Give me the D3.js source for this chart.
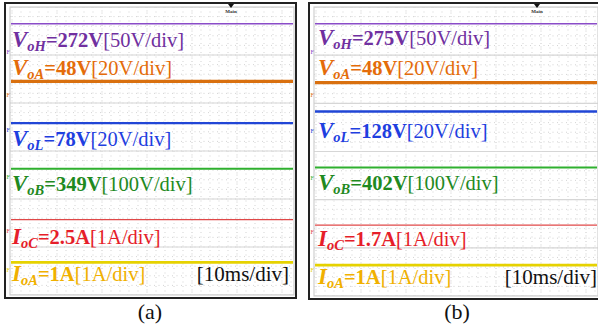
<!DOCTYPE html>
<html>
<head>
<meta charset="utf-8">
<script src="https://cdn.jsdelivr.net/npm/d3@7"></script>
<style>
  html, body { margin: 0; padding: 0; background: #fff; }
  svg { display: block; }
  text { font-family: "Liberation Serif", "Times New Roman", serif; }
</style>
</head>
<body>
<svg id="chart" width="598" height="330"></svg>
<script>
// Channel names: main letter + subscript
const symbolMain = ["V", "V", "V", "V", "I", "I"];
const symbolSub = ["oH", "oA", "oL", "oB", "oC", "oA"];
const units = ["V", "V", "V", "V", "A", "A"];
const divLabels = ["[50V/div]", "[20V/div]", "[20V/div]", "[100V/div]", "[1A/div]", "[1A/div]"];

// Measured steady-state values for each case
const valuesA = [272, 48, 78, 349, 2.5, 1];
const valuesB = [275, 48, 128, 402, 1.7, 1];

// Trace levels on the screen, in vertical divisions from the top
const levelsA = [0.35, 1.55, 2.42, 3.37, 4.43, 5.32];
const levelsB = [0.35, 1.57, 2.17, 3.33, 4.53, 5.36];

// Ground-reference marker levels (divisions from top)
const groundA = [0.93, 1.82, 2.55, 3.54, 4.66, 5.47];
const groundB = [0.93, 1.82, 2.56, 3.54, 4.66, 5.45];

const timeBase = "[10ms/div]";
const panelNames = ["(a)", "(b)"];

const traceColors = ["#8a4cc8", "#d9700f", "#2146d6", "#2fb02f", "#e04848", "#e6d200"];
const textColors = ["#7030a0", "#e46c0a", "#1f3fe0", "#1f8a1f", "#e61e2a", "#f0b000"];
const traceWidths = [1.5, 3.2, 2.4, 2, 1.2, 2.6];

const svg = d3.select("#chart");

// Layout per panel: outer frame and inner screen
const panels = [
  { frame: [5, 3, 296, 298], screen: [10, 7, 294, 295], values: valuesA, levels: levelsA, ground: groundA,
    labelRows: [0.83, 1.41, 2.90, 3.83, 4.93, 5.71], labelX: 12, trig: 231, name: panelNames[0] },
  { frame: [309, 3, 604, 299], screen: [314, 7, 598, 296], values: valuesB, levels: levelsB, ground: groundB,
    labelRows: [0.79, 1.41, 2.71, 3.79, 4.97, 5.75], labelX: 318, trig: 537, name: panelNames[1] }
];

const nDivY = 6;
const divW = 45;

panels.forEach((p, pi) => {
  const [fx0, fy0, fx1, fy1] = p.frame;
  const [sx0, sy0, sx1, sy1] = p.screen;
  const g = svg.append("g");

  const y = d3.scaleLinear().domain([0, nDivY]).range([sy0, sy1]);
  const x0 = sx0 + 2;
  const nDivX = Math.ceil((sx1 - x0) / divW);
  const x = d3.scaleLinear().domain([0, nDivX]).range([x0, x0 + nDivX * divW]);

  // frame
  g.append("rect")
    .attr("x", fx0).attr("y", fy0)
    .attr("width", fx1 - fx0).attr("height", fy1 - fy0)
    .attr("fill", "#fff").attr("stroke", "#222").attr("stroke-width", 2);

  const clipId = "clip" + pi;
  g.append("clipPath").attr("id", clipId)
    .append("rect").attr("x", sx0).attr("y", sy0)
    .attr("width", sx1 - sx0).attr("height", sy1 - sy0);
  const scr = g.append("g").attr("clip-path", `url(#${clipId})`);

  // minor dotted grid
  const minorY = d3.range(0, nDivY * 5 + 1).map(d => d / 5);
  const minorX = d3.range(0, nDivX * 5 + 1).map(d => d / 5);
  scr.selectAll(".mx").data(minorX).join("line")
    .attr("x1", d => x(d)).attr("x2", d => x(d))
    .attr("y1", sy0).attr("y2", sy1)
    .attr("stroke", "#c8c8c8").attr("stroke-width", 0.8)
    .attr("stroke-dasharray", "1,3.5");
  scr.selectAll(".my").data(minorY).join("line")
    .attr("y1", d => y(d)).attr("y2", d => y(d))
    .attr("x1", sx0).attr("x2", sx1)
    .attr("stroke", "#c8c8c8").attr("stroke-width", 0.8)
    .attr("stroke-dasharray", "1,3.5");

  // major grid
  scr.selectAll(".gy").data(d3.range(0, nDivY + 1)).join("line")
    .attr("y1", d => y(d)).attr("y2", d => y(d))
    .attr("x1", sx0).attr("x2", sx1)
    .attr("stroke", "#d6d6d6").attr("stroke-width", 1.2);
  scr.selectAll(".gx").data(d3.range(0, nDivX + 1)).join("line")
    .attr("x1", d => x(d)).attr("x2", d => x(d))
    .attr("y1", sy0).attr("y2", sy1)
    .attr("stroke", "#dcdcdc").attr("stroke-width", 0.8)
    .attr("stroke-dasharray", "1,2");

  // screen border
  g.append("rect")
    .attr("x", sx0).attr("y", sy0)
    .attr("width", sx1 - sx0).attr("height", sy1 - sy0)
    .attr("fill", "none").attr("stroke", "#d0d0d0").attr("stroke-width", 1.2);

  // traces
  scr.selectAll(".trace").data(p.levels).join("line")
    .attr("x1", sx0 + 1).attr("x2", sx1 - 1)
    .attr("y1", d => y(d)).attr("y2", d => y(d))
    .attr("stroke", (d, i) => traceColors[i])
    .attr("stroke-width", (d, i) => traceWidths[i]);

  // ground markers on left edge
  g.selectAll(".gm").data(p.ground).join("text")
    .attr("x", fx0 + 1.5).attr("y", d => y(d) + 2.5)
    .attr("font-size", 6).attr("font-family", "DejaVu Sans")
    .attr("fill", (d, i) => traceColors[i])
    .text("F");

  // trigger marker at top
  g.append("path")
    .attr("d", `M${p.trig - 3},${sy0 - 3} L${p.trig + 3},${sy0 - 3} L${p.trig},${sy0 + 1} Z`)
    .attr("fill", "#111");
  g.append("text")
    .attr("x", p.trig).attr("y", sy0 + 6)
    .attr("text-anchor", "middle").attr("font-size", 5)
    .attr("font-family", "DejaVu Sans").attr("font-weight", "bold")
    .attr("fill", "#333").text("Main");

  // channel labels
  p.values.forEach((v, i) => {
    const t = g.append("text")
      .attr("x", p.labelX).attr("y", y(p.labelRows[i]))
      .attr("fill", textColors[i]).attr("font-size", 20.5);
    t.append("tspan").attr("font-weight", "bold").attr("font-style", "italic")
      .attr("font-size", 23).text(symbolMain[i]);
    t.append("tspan").attr("font-weight", "bold").attr("font-style", "italic")
      .attr("font-size", 14.5).attr("dy", 4).text(symbolSub[i]);
    t.append("tspan").attr("font-weight", "bold").attr("dy", -4)
      .text("=" + v + units[i]);
    t.append("tspan").text(divLabels[i]);
  });

  // time base
  g.append("text")
    .attr("x", Math.min(sx1, 598) - (pi === 0 ? 5 : 1)).attr("y", y(5.71 + (pi === 0 ? 0 : 0.04)))
    .attr("text-anchor", "end").attr("font-size", 21).attr("fill", "#111")
    .text(timeBase);

  // panel caption
  g.append("text")
    .attr("x", pi === 0 ? 150 : 457).attr("y", 319)
    .attr("text-anchor", "middle").attr("font-size", 22).attr("fill", "#111")
    .text(p.name);
});
</script>
</body>
</html>
